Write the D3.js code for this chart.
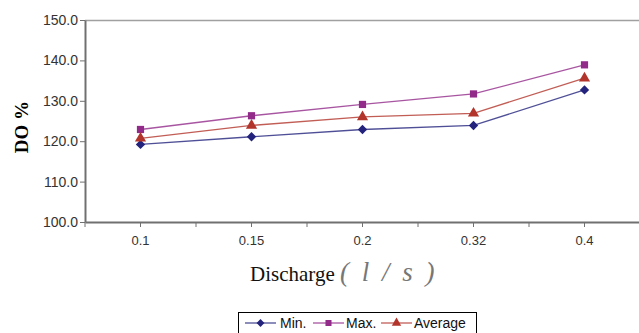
<!DOCTYPE html>
<html>
<head>
<meta charset="utf-8">
<script src="https://cdn.jsdelivr.net/npm/d3@7"></script>
<style>
  body { margin: 0; background: #fff; }
  svg { display: block; }
  .tick text { font-family: Arial, "Liberation Sans", sans-serif; fill: #333; }
</style>
</head>
<body>
<script>
// data
var categories = ["0.1", "0.15", "0.2", "0.32", "0.4"];
var minValues = [119.2, 121.1, 122.9, 123.9, 132.7];
var maxValues = [122.9, 126.3, 129.1, 131.7, 138.9];
var avgValues = [120.7, 123.9, 126.0, 126.9, 135.6];
var yTicks = [100, 110, 120, 130, 140, 150];

var series = [
  { name: "Min.", values: minValues, colour: "#23237d", symbol: d3.symbolDiamond2, size: 56 },
  { name: "Max.", values: maxValues, colour: "#922a8a", symbol: d3.symbolSquare, size: 52 },
  { name: "Average", values: avgValues, colour: "#b2342a", symbol: d3.symbolTriangle, size: 54 }
];

var W = 639, H = 333;
var plotLeft = 85, plotRight = 640, plotTop = 20, plotBottom = 222;

var svg = d3.select("body").append("svg")
  .attr("width", W)
  .attr("height", H);

var x = d3.scaleBand().domain(categories).range([plotLeft, plotRight]).padding(0);
var y = d3.scaleLinear().domain([100, 150]).range([plotBottom, plotTop]);

// top border
svg.append("line")
  .attr("x1", plotLeft).attr("x2", W)
  .attr("y1", plotTop + 0.5).attr("y2", plotTop + 0.5)
  .attr("stroke", "#a0a0a0").attr("stroke-width", 1.5);

// y axis
var yAxis = svg.append("g")
  .attr("transform", "translate(" + plotLeft + ",0)")
  .call(d3.axisLeft(y).tickValues(yTicks).tickSize(5).tickSizeOuter(0).tickFormat(d3.format(".1f")));
yAxis.select(".domain").attr("stroke", "#707070").attr("stroke-width", 2);
yAxis.selectAll(".tick line").attr("stroke", "#707070");
yAxis.selectAll(".tick text").attr("font-size", 14).attr("x", -7);

// x axis, ticks at band edges and centres
var xAxis = svg.append("g")
  .attr("transform", "translate(0," + plotBottom + ")")
  .call(d3.axisBottom(x).tickSize(0).tickSizeOuter(0));
xAxis.select(".domain").attr("stroke", "#707070").attr("stroke-width", 2);
xAxis.selectAll(".tick text").attr("font-size", 13).attr("dy", "1.5em");

var tickPos = [];
categories.forEach(function(c) {
  tickPos.push(x(c));
  tickPos.push(x(c) + x.bandwidth() / 2);
});
svg.append("g").selectAll("line.xt")
  .data(tickPos)
  .enter().append("line")
  .attr("class", "xt")
  .attr("x1", d => d).attr("x2", d => d)
  .attr("y1", plotBottom).attr("y2", plotBottom + 5)
  .attr("stroke", "#707070");

// lines
var line = d3.line()
  .x((d, i) => x(categories[i]) + x.bandwidth() / 2)
  .y(d => y(d));

series.forEach(function(s) {
  svg.append("path")
    .datum(s.values)
    .attr("fill", "none")
    .attr("stroke", s.colour)
    .attr("stroke-opacity", 0.8)
    .attr("stroke-width", 1.3)
    .attr("d", line);

  svg.append("g").selectAll("path")
    .data(s.values)
    .enter().append("path")
    .attr("transform", (d, i) => "translate(" + (x(categories[i]) + x.bandwidth() / 2) + "," + y(d) + ")")
    .attr("d", d3.symbol().type(s.symbol).size(s.size))
    .attr("fill", s.colour);
});

// axis titles
svg.append("text")
  .attr("transform", "translate(28,127) rotate(-90)")
  .attr("text-anchor", "middle")
  .attr("font-family", "'Liberation Serif', 'Times New Roman', serif")
  .attr("font-weight", "bold")
  .attr("font-size", 19)
  .text("DO %");

var xt = svg.append("text")
  .attr("x", 250)
  .attr("y", 281)
  .attr("font-family", "'Liberation Serif', 'Times New Roman', serif")
  .attr("font-size", 21)
  .attr("fill", "#111");
xt.append("tspan").text("Discharge ");
xt.append("tspan")
  .attr("font-size", 27)
  .attr("font-style", "italic")
  .attr("fill", "#777")
  .attr("letter-spacing", 3)
  .text("( l / s )");

// legend
var legend = svg.append("g").attr("transform", "translate(238,312)");
legend.append("rect")
  .attr("x", 0.5).attr("y", 0.5)
  .attr("width", 238).attr("height", 24)
  .attr("fill", "#fff")
  .attr("stroke", "#000");

var legendX = [7, 75, 143];
var textX = [42, 108, 176];
series.forEach(function(s, i) {
  var g = legend.append("g");
  g.append("line")
    .attr("x1", legendX[i]).attr("x2", legendX[i] + 31)
    .attr("y1", 11).attr("y2", 11)
    .attr("stroke", s.colour)
    .attr("stroke-opacity", 0.8)
    .attr("stroke-width", 1.3);
  g.append("path")
    .attr("transform", "translate(" + (legendX[i] + 15.5) + ",11)")
    .attr("d", d3.symbol().type(s.symbol).size(s.size * 0.7))
    .attr("fill", s.colour);
  g.append("text")
    .attr("x", textX[i])
    .attr("y", 16)
    .attr("font-family", "Arial, 'Liberation Sans', sans-serif")
    .attr("font-size", 14)
    .attr("fill", "#111")
    .text(s.name);
});
</script>
</body>
</html>
